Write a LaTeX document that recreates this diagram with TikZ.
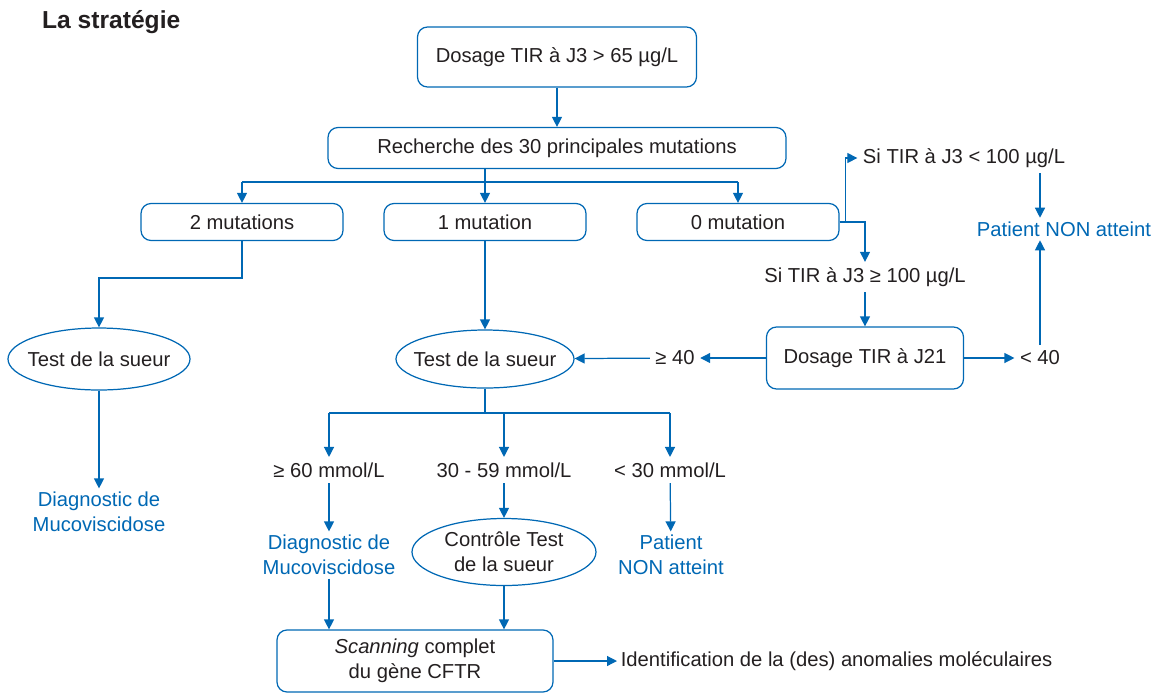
\documentclass[tikz,border=0pt]{standalone}
\usepackage{fontspec}
\setmainfont{Liberation Sans}
\usetikzlibrary{arrows.meta,shapes.geometric}
\definecolor{cfblue}{RGB}{0,104,180}
\definecolor{cftext}{RGB}{35,31,32}

\begin{document}
\begin{tikzpicture}[x=0.2mm, y=-0.2mm,
	every node/.style={font=\fontsize{11.5}{14}\selectfont, text=cftext},
	>={Triangle[length=2mm, width=2mm]},
	box/.style={draw=cfblue, line width=0.7pt, rounded corners=2mm, align=center, inner sep=0pt},
	oval/.style={draw=cfblue, line width=0.7pt, ellipse, inner sep=-5mm, align=center},
	result/.style={text=cfblue, align=center, inner sep=2pt},
	lab/.style={inner sep=3pt},
	link/.style={draw=cfblue, line width=0.7pt}]
	\useasboundingbox (0,0) rectangle (1157,693);
	\node[anchor=west, font=\fontsize{14}{16}\selectfont\bfseries] (titre) at (36,22) {La stratégie};
	% top of the tree
	\node[box, minimum width=55.8mm, minimum height=12mm] (tir3) at (557,57) {Dosage TIR à J3 > 65 µg/L};
	\node[box, minimum width=91.6mm, minimum height=8.2mm] (muta) at (557,148) {Recherche des 30 principales mutations};
	\foreach \n/\x/\lab in {m2/242/2 mutations, m1/485/1 mutation, m0/738/0 mutation} {
		\node[box, minimum width=40.4mm, minimum height=7.4mm] (\n) at (\x,222) {\lab};
	}
	\coordinate (fork1) at (485,182);
	% 2 mutations
	\node[oval, minimum width=36.4mm, minimum height=12.4mm] (sueur1) at (99,359) {Test de la sueur};
	\node[result] (diag1) at (99,512) {Diagnostic de\\Mucoviscidose};
	\coordinate (knee2) at (242,278);
	% 1 mutation
	\node[oval, minimum width=35.6mm, minimum height=11.6mm] (sueur2) at (485,359) {Test de la sueur};
	% 0 mutation
	\node[lab] (silow) at (964,158) {Si TIR à J3 < 100 µg/L};
	\node[lab] (sihigh) at (865,277) {Si TIR à J3 ≥ 100 µg/L};
	\node[result] (nonatt1) at (1064,229) {Patient NON atteint};
	\node[box, minimum width=39.4mm, minimum height=12.4mm] (tir21) at (865,358) {Dosage TIR à J21};
	\node[lab] (lt40) at (1040,358) {< 40};
	\node[lab] (ge40) at (675,358) {≥ 40};
	% sweat test results
	\coordinate (fork2) at (485,413);
	\foreach \n/\x/\lab in {r60/329/{≥ 60 mmol/L}, r3059/504/{30 - 59 mmol/L}, r30/670/{< 30 mmol/L}} {
		\node[lab] (\n) at (\x,470) {\lab};
	}
	\node[result] (diag2) at (329,555) {Diagnostic de\\Mucoviscidose};
	\node[oval, minimum width=36.8mm, minimum height=13.4mm] (controle) at (504,552) {Contrôle Test\\de la sueur};
	\node[result] (nonatt2) at (671,555) {Patient\\NON atteint};
	\node[box, minimum width=55.2mm, minimum height=12.4mm] (scan) at (415,661) {\emph{Scanning} complet\\du gène CFTR};
	\node[anchor=west, inner sep=2pt] (ident) at (617,661) {Identification de la (des) anomalies moléculaires};

	% connectors
	\draw[link, ->] (tir3) -- (muta);
	\draw[link] (muta.south -| fork1) -- (fork1);
	\draw[link] (fork1 -| m2) -- (fork1 -| m0);
	\foreach \n in {m2, m1, m0} {
		\draw[link, ->] (fork1 -| \n) -- (\n);
	}
	\draw[link, ->] (m2) -- (knee2) -| (sueur1);
	\draw[link, ->] (sueur1) -- (diag1);
	\draw[link, ->] (m1) -- (sueur2);
	\draw[link, ->] (m0.east) -- ++(6,0) |- (silow);
	\draw[link, ->] (m0.east) -| (sihigh);
	\draw[link, ->] (silow.south -| lt40.north) -- (nonatt1.north -| lt40.north);
	\draw[link, ->] (sihigh) -- (tir21);
	\draw[link, ->] (tir21) -- (lt40);
	\draw[link, ->] (lt40) -- (nonatt1.south -| lt40.north);
	\draw[link, ->] (tir21) -- (ge40);
	\draw[link, ->] (ge40) -- (sueur2);
	\draw[link] (sueur2) -- (fork2);
	\draw[link] (fork2 -| r60) -- (fork2 -| r30);
	\foreach \n in {r60, r3059, r30} {
		\draw[link, ->] (fork2 -| \n) -- (\n);
	}
	\draw[link, ->] (r60) -- (diag2);
	\draw[link, ->] (r3059) -- (controle);
	\draw[link, ->] (r30) -- (nonatt2);
	\draw[link, ->] (diag2) -- (diag2 |- scan.north);
	\draw[link, ->] (controle) -- (controle |- scan.north);
	\draw[link, ->] (scan) -- (ident);
\end{tikzpicture}
\end{document}
